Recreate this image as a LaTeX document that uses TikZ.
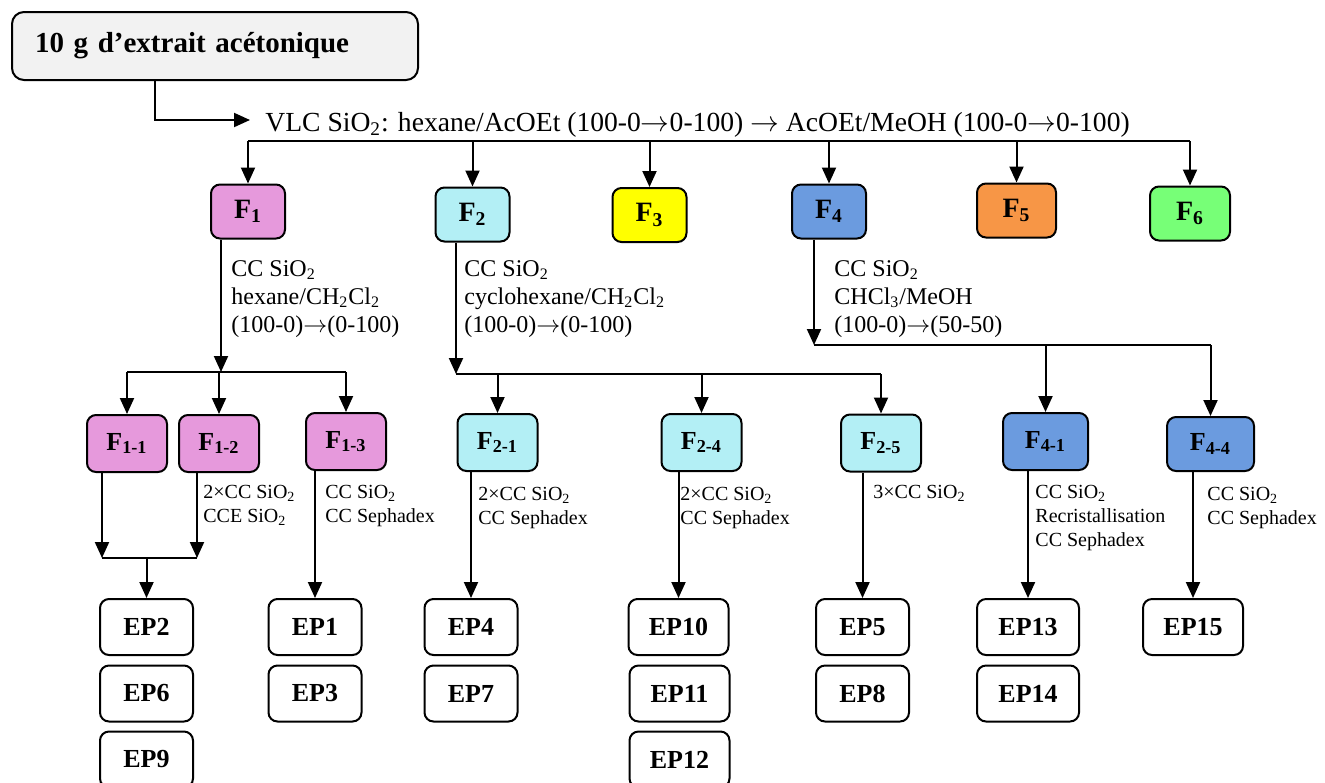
\documentclass[tikz,border=0pt]{standalone}
\usepackage{fontspec}
\setmainfont{Liberation Serif}
\usetikzlibrary{arrows.meta}

\definecolor{fpink}{HTML}{E699DC}
\definecolor{fcyan}{HTML}{B3EFF5}
\definecolor{fyellow}{HTML}{FFFF00}
\definecolor{fblue}{HTML}{6B9BDF}
\definecolor{forange}{HTML}{F79646}
\definecolor{fgreen}{HTML}{77FF77}
\definecolor{fgrey}{HTML}{F2F2F2}

\newcommand{\ra}{$\rightarrow$}

\tikzset{
  arr/.style={line width=1pt, -{Triangle[length=8pt,width=7pt]}},
  bar/.style={line width=1.1pt},
  frac/.style={draw, line width=1pt, rounded corners=4.5pt, inner sep=0pt,
    minimum width=37pt, minimum height=27pt, font=\fontsize{14}{16}\selectfont\bfseries},
  subfrac/.style={frac, minimum width=40pt, minimum height=28.5pt, font=\fontsize{13}{15}\selectfont\bfseries},
  ep/.style={draw, line width=1pt, rounded corners=4.5pt, inner sep=0pt,
    minimum width=46.5pt, minimum height=28pt, font=\fontsize{13}{15}\selectfont\bfseries},
  cond/.style={anchor=north west, inner sep=0pt, align=left, font=\fontsize{12}{14}\selectfont},
  subcond/.style={anchor=north west, inner sep=0pt, align=left, font=\fontsize{10}{12}\selectfont}
}

\begin{document}
\begin{tikzpicture}[x=0.5pt,y=-0.5pt]
\useasboundingbox (0,0) rectangle (1325,782);

% extrait et VLC
\node[draw, line width=1pt, rounded corners=6pt, fill=fgrey, text width=180pt, inner xsep=11.5pt,
  minimum height=34pt, align=left, font=\fontsize{14.5}{17}\selectfont\bfseries] (extrait) at (215,46)
  {10 g d’extrait acétonique};
\coordinate (vlc-in) at (250,120);
\draw[arr] ([xshift=-30pt]extrait.south) |- (vlc-in);
\node[anchor=base west, inner sep=0pt, font=\fontsize{13.8}{16}\selectfont] (vlc) at (265,131)
  {VLC SiO\textsubscript{2}: hexane/AcOEt (100-0\ra0-100) \ra\ AcOEt/MeOH (100-0\ra0-100)};

% fractions F1 - F6
\node[frac, fill=fpink] (F1) at (248,211.5) {F\textsubscript{1}};
\node[frac, fill=fcyan] (F2) at (472.5,214.5) {F\textsubscript{2}};
\node[frac, fill=fyellow] (F3) at (649.5,215) {F\textsubscript{3}};
\node[frac, fill=fblue] (F4) at (829,211.5) {F\textsubscript{4}};
\node[frac, fill=forange, minimum width=39.5pt] (F5) at (1016.5,210.5) {F\textsubscript{5}};
\node[frac, fill=fgreen, minimum width=40pt] (F6) at (1190,213.5) {F\textsubscript{6}};

\coordinate (bus-l) at (248,141);
\coordinate (bus-r) at (1190,141);
\draw[bar] (bus-l) -- (bus-r);
\foreach \f in {F1,F2,F3,F4,F5,F6}
  \draw[arr] (\f.north |- bus-l) -- (\f.north);

% sous-fractions
\node[subfrac, fill=fpink] (F11) at (127,443.5) {F\textsubscript{1-1}};
\node[subfrac, fill=fpink] (F12) at (219,443.5) {F\textsubscript{1-2}};
\node[subfrac, fill=fpink] (F13) at (346,441.5) {F\textsubscript{1-3}};
\node[subfrac, fill=fcyan] (F21) at (497.5,442.5) {F\textsubscript{2-1}};
\node[subfrac, fill=fcyan] (F24) at (701.5,442.5) {F\textsubscript{2-4}};
\node[subfrac, fill=fcyan] (F25) at (881,443) {F\textsubscript{2-5}};
\node[subfrac, fill=fblue, minimum width=42.5pt] (F41) at (1045.5,441.5) {F\textsubscript{4-1}};
\node[subfrac, fill=fblue, minimum width=43.5pt, minimum height=27pt] (F44) at (1210.5,444) {F\textsubscript{4-4}};

% F1
\coordinate (f1-bus) at (221,372);
\draw[arr] (f1-bus |- F1.south) -- (f1-bus);
\node[cond] (c1) at (231,260) {CC SiO\textsubscript{2}\\hexane/CH\textsubscript{2}Cl\textsubscript{2}\\(100-0)\ra(0-100)};
\draw[bar] (F11.north |- f1-bus) -- (F13.north |- f1-bus);
\foreach \f in {F11,F12,F13}
  \draw[arr] (\f.north |- f1-bus) -- (\f.north);

% F2
\coordinate (f2-bus) at (456,374);
\draw[arr] (f2-bus |- F2.south) -- (f2-bus);
\node[cond] (c2) at (464,260) {CC SiO\textsubscript{2}\\cyclohexane/CH\textsubscript{2}Cl\textsubscript{2}\\(100-0)\ra(0-100)};
\draw[bar] (f2-bus) -- (F25.north |- f2-bus);
\foreach \f in {F21,F24,F25}
  \draw[arr] (\f.north |- f2-bus) -- (\f.north);

% F4
\coordinate (f4-bus) at (814,345);
\draw[arr] (f4-bus |- F4.south) -- (f4-bus);
\node[cond] (c4) at (834,260) {CC SiO\textsubscript{2}\\CHCl\textsubscript{3}/MeOH\\(100-0)\ra(50-50)};
\draw[bar] (f4-bus) -- (F44.north |- f4-bus);
\foreach \f in {F41,F44}
  \draw[arr] (\f.north |- f4-bus) -- (\f.north);

% produits purs
\node[ep] (EP2) at (146.5,627) {EP2};
\node[ep] (EP6) at (146.5,693.5) {EP6};
\node[ep] (EP9) at (146.5,759.5) {EP9};
\node[ep] (EP1) at (315,627) {EP1};
\node[ep] (EP3) at (315,693.5) {EP3};
\node[ep] (EP4) at (471,627) {EP4};
\node[ep] (EP7) at (471,693.5) {EP7};
\node[ep, minimum width=50pt] (EP10) at (678.5,627) {EP10};
\node[ep, minimum width=50pt] (EP11) at (679.5,693.5) {EP11};
\node[ep, minimum width=50pt] (EP12) at (679.5,759.5) {EP12};
\node[ep] (EP5) at (862.5,627) {EP5};
\node[ep] (EP8) at (862.5,693.5) {EP8};
\node[ep, minimum width=51pt] (EP13) at (1028,627) {EP13};
\node[ep, minimum width=51pt] (EP14) at (1028,693.5) {EP14};
\node[ep, minimum width=50pt] (EP15) at (1193,627) {EP15};

% F1-1 et F1-2 reunies
\coordinate (m11) at (102,558);
\coordinate (m12) at (197,558);
\draw[arr] (m11 |- F11.south) -- (m11);
\draw[arr] (m12 |- F12.south) -- (m12);
\draw[bar] (m11) -- (m12);
\draw[arr] (EP2.north |- m11) -- (EP2.north);
\node[subcond] (c12) at (203,485) {2×CC SiO\textsubscript{2}\\CCE SiO\textsubscript{2}};

% F1-3, F2-x, F4-x
\draw[arr] (EP1.north |- F13.south) -- (EP1.north);
\node[subcond] (c13) at (325,485) {CC SiO\textsubscript{2}\\CC Sephadex};
\draw[arr] (EP4.north |- F21.south) -- (EP4.north);
\node[subcond] (c21) at (478,487) {2×CC SiO\textsubscript{2}\\CC Sephadex};
\draw[arr] (EP10.north |- F24.south) -- (EP10.north);
\node[subcond] (c24) at (680,487) {2×CC SiO\textsubscript{2}\\CC Sephadex};
\draw[arr] (EP5.north |- F25.south) -- (EP5.north);
\node[subcond] (c25) at (873,485) {3×CC SiO\textsubscript{2}};
\draw[arr] (EP13.north |- F41.south) -- (EP13.north);
\node[subcond] (c41) at (1035,485) {CC SiO\textsubscript{2}\\Recristallisation\\CC Sephadex};
\draw[arr] (EP15.north |- F44.south) -- (EP15.north);
\node[subcond] (c44) at (1207,487) {CC SiO\textsubscript{2}\\CC Sephadex};
\end{tikzpicture}
\end{document}
